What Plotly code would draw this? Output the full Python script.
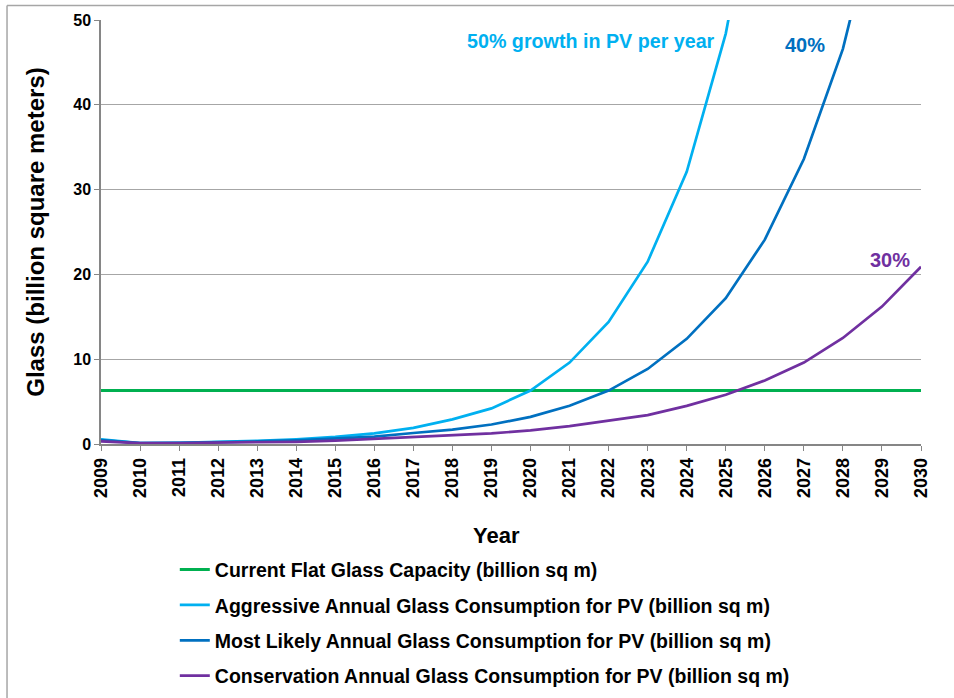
import plotly.graph_objects as go

years = list(range(2009, 2031))
capacity = [6.3] * len(years)
aggressive = [0.55, 0.1, 0.15, 0.25, 0.37, 0.56, 0.84, 1.25, 1.9, 2.9, 4.2, 6.3,
              9.6, 14.4, 21.5, 32.1, 48.4, 72.6, None, None, None, None]
most_likely = [0.45, 0.1, 0.14, 0.2, 0.3, 0.42, 0.6, 0.86, 1.3, 1.7, 2.3, 3.2,
               4.5, 6.3, 8.85, 12.4, 17.2, 24.1, 33.6, 46.6, 65.2, None]
conservative = [0.3, 0.1, 0.12, 0.16, 0.2, 0.26, 0.4, 0.6, 0.8, 1.0, 1.25, 1.6,
                2.1, 2.75, 3.4, 4.5, 5.8, 7.5, 9.6, 12.5, 16.2, 20.9]

names = ["Current Flat Glass Capacity (billion sq m)",
         "Aggressive Annual Glass Consumption for PV (billion sq m)",
         "Most Likely Annual Glass Consumption for PV (billion sq m)",
         "Conservation Annual Glass Consumption for PV (billion sq m)"]
colors = ["#00B050", "#00B0F0", "#0070C0", "#7030A0"]
series = [capacity, aggressive, most_likely, conservative]

labels = ["50% growth in PV per year", "40%", "30%"]
label_x = [2021.55, 2027.03, 2029.2]
label_y = [47.5, 47.0, 21.7]
label_colors = ["#00B0F0", "#0070C0", "#7030A0"]
label_sizes = [19.7, 20, 20]

FONT = "Liberation Sans"

fig = go.Figure()
for i, (nm, col, ys) in enumerate(zip(names, colors, series)):
    fig.add_trace(go.Scatter(x=years, y=ys, mode="lines", name=f"<b>{nm}</b>",
                             legendgroup=f"g{i}",
                             line=dict(color=col, width=3 if i == 0 else 2.7)))

for t, x, y, c, s in zip(labels, label_x, label_y, label_colors, label_sizes):
    fig.add_annotation(x=x, y=y, xref="x", yref="y", text=f"<b>{t}</b>",
                       showarrow=False, font=dict(family=FONT, size=s, color=c))

# x-axis title placed as annotation (slightly left of centre, as in the source)
fig.add_annotation(x=0.482, y=-0.215, xref="paper", yref="paper",
                   text="<b>Year</b>", showarrow=False, yanchor="middle",
                   font=dict(family=FONT, size=22, color="black"))

# outer chart frame (top and left edges visible)
fig.add_shape(type="line", xref="paper", yref="paper",
              x0=-0.1146, x1=1.1, y0=1.034, y1=1.034,
              line=dict(color="#A6A6A6", width=1.5))
fig.add_shape(type="line", xref="paper", yref="paper",
              x0=-0.1146, x1=-0.1146, y0=-0.7, y1=1.034,
              line=dict(color="#A6A6A6", width=1.5))

fig.update_layout(
    width=954, height=698,
    margin=dict(l=101, r=33, t=20, b=254, autoexpand=False),
    paper_bgcolor="white", plot_bgcolor="white",
    font=dict(family=FONT, color="black"),
    showlegend=True,
    legend=dict(x=0.09, y=-0.251, xanchor="left", yanchor="top",
                font=dict(family=FONT, size=19.5, color="black"),
                traceorder="grouped", tracegroupgap=7,
                bgcolor="rgba(0,0,0,0)"),
    xaxis=dict(range=[2009, 2030], tickmode="array", tickvals=years,
               ticktext=[f"<b>{y}</b>" for y in years],
               tickangle=-90, tickfont=dict(family=FONT, size=18),
               ticks="outside", ticklen=5, tickcolor="#868686",
               showline=True, linecolor="#868686", linewidth=1.5,
               showgrid=False, zeroline=False),
    yaxis=dict(range=[0, 50], tickvals=[0, 10, 20, 30, 40, 50],
               ticktext=[f"<b>{v}</b>" for v in [0, 10, 20, 30, 40, 50]],
               tickfont=dict(family=FONT, size=16),
               ticks="outside", ticklen=5, tickcolor="#868686",
               showline=True, linecolor="#868686", linewidth=1.5,
               showgrid=True, gridcolor="#A6A6A6", gridwidth=1, zeroline=False,
               title=dict(text="<b>Glass (billion square meters)</b>",
                          font=dict(family=FONT, size=24), standoff=22)),
)

fig.write_html("out.html",
               config={"displayModeBar": False},
               post_script="document.body.style.margin='0';document.body.style.overflow='hidden';")
